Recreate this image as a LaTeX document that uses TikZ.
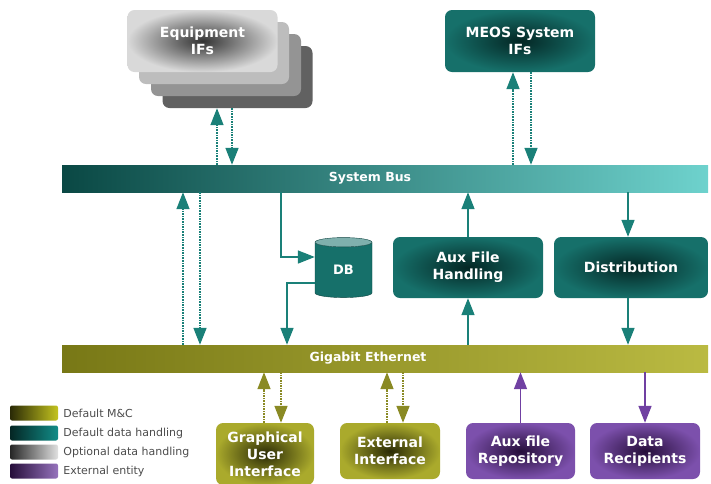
\documentclass[tikz,border=0pt]{standalone}
\usepackage{fontspec}
\newfontfamily\boxfont{DejaVu Sans}
\usetikzlibrary{shapes, arrows.meta, positioning, calc}
\definecolor{tealbox}{RGB}{22,112,106}
\definecolor{tealdeep}{RGB}{4,38,36}
\definecolor{tealline}{RGB}{26,128,120}
\definecolor{busdark}{RGB}{10,72,68}
\definecolor{buslight}{RGB}{110,210,205}
\definecolor{olivebox}{RGB}{170,170,44}
\definecolor{olivedeep}{RGB}{42,42,6}
\definecolor{oliveline}{RGB}{138,138,36}
\definecolor{ethdark}{RGB}{120,120,22}
\definecolor{ethlight}{RGB}{186,186,66}
\definecolor{purplebox}{RGB}{124,80,172}
\definecolor{purpledeep}{RGB}{38,14,58}
\definecolor{purpleline}{RGB}{112,64,162}

\begin{document}
\begin{tikzpicture}[x=1pt, y=-1pt,
  box/.style={rounded corners=7pt, align=center, text=white, inner sep=2pt,
    font=\boxfont\bfseries\fontsize{14}{17}\selectfont},
  tealbox/.style={box, inner color=tealdeep, outer color=tealbox},
  olivebox/.style={box, inner color=olivedeep, outer color=olivebox},
  purplebox/.style={box, inner color=purpledeep, outer color=purplebox},
  layer/.style={rounded corners=7pt, minimum width=150pt, minimum height=62pt},
  bus/.style={minimum width=646pt, minimum height=27pt, inner sep=0pt},
  buslabel/.style={text=white, font=\boxfont\bfseries\fontsize{12.5}{14}\selectfont},
  flow/.style={color=tealline, line width=1.6pt, -{Triangle[width=13pt,length=17pt]}},
  optflow/.style={flow, densely dotted},
  swatch/.style={rounded corners=2pt, minimum width=48pt, minimum height=15pt, inner sep=0pt},
  legendtext/.style={anchor=west, text=black!70, inner sep=0pt, font=\boxfont\fontsize{11}{12}\selectfont}
]
  \useasboundingbox (0,0) rectangle (711,483);

  % equipment interfaces, stacked
  \node[layer, fill=black!62] (eq4) at (237.5,77) {};
  \node[layer, fill=black!42] (eq3) at (226,65) {};
  \node[layer, fill=black!26] (eq2) at (214,53) {};
  \node[box, layer, inner color=black!80, outer color=black!15] (eq1) at (202.5,41) {Equipment\\IFs};
  \node[tealbox, minimum width=150pt, minimum height=62pt] (meos) at (520,41) {MEOS System\\IFs};

  % buses
  \node[bus, left color=busdark, right color=buslight] (sysbus) at (385,178.5) {};
  \node[buslabel] (sysbuslbl) at (370,178.5) {System Bus};
  \node[bus, left color=ethdark, right color=ethlight] (gige) at (385,358.5) {};
  \node[buslabel] (gigelbl) at (368,358.5) {Gigabit Ethernet};

  % data handling
  \node[cylinder, shape border rotate=90, aspect=0.45, minimum width=57pt, minimum height=60pt,
    inner sep=0pt, draw=tealbox!60!black, cylinder uses custom fill, cylinder body fill=tealbox,
    cylinder end fill=tealbox!55!white, text=white, font=\boxfont\bfseries\fontsize{13}{15}\selectfont] (db) at (343.5,270) {DB};
  \node[tealbox, minimum width=150pt, minimum height=61pt] (aux) at (468,267.5) {Aux File\\Handling};
  \node[tealbox, minimum width=154pt, minimum height=61pt] (dist) at (631,267.5) {Distribution};

  % M&C and external entities
  \node[olivebox, minimum width=98pt, minimum height=62pt] (gui) at (265,454) {Graphical\\User\\Interface};
  \node[olivebox, minimum width=100pt, minimum height=56pt] (ext) at (390,451) {External\\Interface};
  \node[purplebox, minimum width=109pt, minimum height=56pt] (repo) at (520.5,451) {Aux file\\Repository};
  \node[purplebox, minimum width=110pt, minimum height=56pt] (recip) at (645,451) {Data\\Recipients};

  % legend
  \node[swatch, left color=olivedeep, right color=olivebox!70!yellow] (lg1) at (34,413) {};
  \node[swatch, left color=tealdeep, right color=tealbox!80!cyan] (lg2) at (34,433) {};
  \node[swatch, left color=black!85, right color=black!12] (lg3) at (34,452) {};
  \node[swatch, left color=purpledeep, right color=purplebox!80!white] (lg4) at (34,471) {};
  \node[legendtext, right=5pt of lg1] (lgt1) {Default M\&C};
  \node[legendtext, right=5pt of lg2] (lgt2) {Default data handling};
  \node[legendtext, right=5pt of lg3] (lgt3) {Optional data handling};
  \node[legendtext, right=5pt of lg4] (lgt4) {External entity};

  % connectors above the system bus
  \coordinate (equp) at ([xshift=-20.5pt]eq4.south);
  \coordinate (eqdn) at ([xshift=-5.5pt]eq4.south);
  \draw[optflow] (equp |- sysbus.north) -- (equp);
  \draw[optflow] (eqdn) -- (eqdn |- sysbus.north);
  \coordinate (meosup) at ([xshift=-7pt]meos.south);
  \coordinate (meosdn) at ([xshift=11pt]meos.south);
  \draw[optflow] (meosup |- sysbus.north) -- (meosup);
  \draw[optflow] (meosdn) -- (meosdn |- sysbus.north);

  % connectors between the buses
  \coordinate (lup) at (183,0);
  \coordinate (ldn) at (200,0);
  \draw[optflow] (lup |- gige.north) -- (lup |- sysbus.south);
  \draw[optflow] (ldn |- sysbus.south) -- (ldn |- gige.north);
  \coordinate (dbin) at (281,0);
  \coordinate (dbout) at (287,0);
  \draw[flow] (dbin |- sysbus.south) |- ([yshift=13pt]db.west);
  \draw[flow] ([yshift=-13pt]db.west) -| (dbout |- gige.north);
  \draw[flow] (aux.south |- gige.north) -- (aux.south);
  \draw[flow] (aux.north) -- (aux.north |- sysbus.south);
  \draw[flow] ([xshift=-3pt]dist.north |- sysbus.south) -- ([xshift=-3pt]dist.north);
  \draw[flow] ([xshift=-3pt]dist.south) -- ([xshift=-3pt]dist.south |- gige.north);

  % connectors below the ethernet
  \coordinate (guiup) at ([xshift=-1pt]gui.north);
  \coordinate (guidn) at ([xshift=16pt]gui.north);
  \draw[optflow, oliveline] (guiup) -- (guiup |- gige.south);
  \draw[optflow, oliveline] (guidn |- gige.south) -- (guidn);
  \coordinate (extup) at ([xshift=-3pt]ext.north);
  \coordinate (extdn) at ([xshift=13pt]ext.north);
  \draw[optflow, oliveline] (extup) -- (extup |- gige.south);
  \draw[optflow, oliveline] (extdn |- gige.south) -- (extdn);
  \draw[flow, purpleline, line width=1.6pt] (repo.north) -- (repo.north |- gige.south);
  \draw[flow, purpleline, line width=1.6pt] (recip.north |- gige.south) -- (recip.north);
\end{tikzpicture}
\end{document}
